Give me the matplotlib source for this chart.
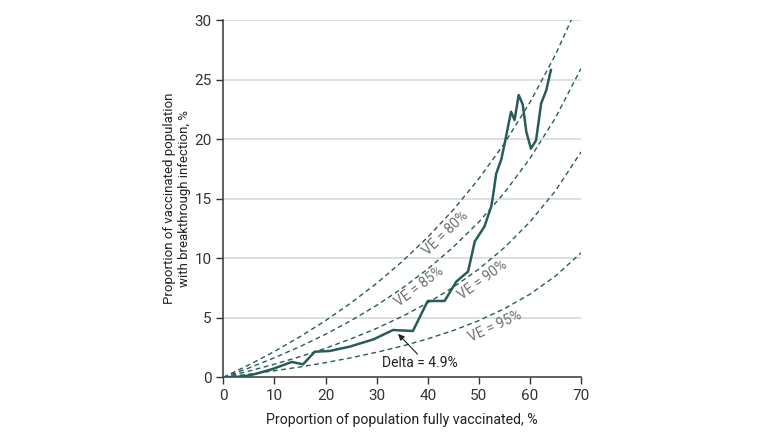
import matplotlib.pyplot as plt

# observed Delta curve
delta_x = [0, 3, 5, 7.2, 9.8, 13.4, 15.6, 17.9, 20.8, 24.7, 29.4, 33.2, 37.1,
           40.0, 43.3, 45.6, 47.9, 49.2, 51.1, 52.4, 52.7, 53.4, 54.4, 55.0,
           56.3, 57.0, 57.8, 58.6, 59.3, 60.2, 61.2, 62.2, 63.2, 64.1]
delta_y = [0, 0.05, 0.15, 0.39, 0.72, 1.29, 1.09, 2.15, 2.21, 2.57, 3.19, 3.97,
           3.89, 6.41, 6.41, 8.04, 8.88, 11.4, 12.66, 14.3, 15.0, 17.1, 18.3,
           19.5, 22.3, 21.6, 23.7, 22.9, 20.6, 19.2, 19.9, 23.0, 24.1, 25.8]

# reference curves for vaccine effectiveness
ve_x = [0, 5, 10, 15, 20, 25, 30, 35, 40, 45, 50, 55, 60, 65, 70]
ve80 = [0, 1.04, 2.17, 3.41, 4.76, 6.25, 7.89, 9.72, 11.76, 14.06, 16.67, 19.64, 23.08, 27.08, 31.82]
ve85 = [0, 0.78, 1.64, 2.58, 3.61, 4.76, 6.04, 7.47, 9.09, 10.93, 13.04, 15.49, 18.37, 21.79, 25.93]
ve90 = [0, 0.52, 1.10, 1.73, 2.44, 3.23, 4.11, 5.11, 6.25, 7.56, 9.09, 10.89, 13.04, 15.66, 18.92]
ve95 = [0, 0.26, 0.55, 0.87, 1.23, 1.64, 2.10, 2.62, 3.23, 3.93, 4.76, 5.76, 6.98, 8.50, 10.45]

ve_labels = ["VE = 80%", "VE = 85%", "VE = 90%", "VE = 95%"]
label_pos = [(43.6, 12.1, 44), (38.4, 7.6, 37), (50.8, 8.2, 36), (53.1, 4.25, 25)]

x_ticks = [0, 10, 20, 30, 40, 50, 60, 70]
y_ticks = [0, 5, 10, 15, 20, 25, 30]

plt.rcParams['font.family'] = ['Roboto', 'DejaVu Sans']

line_color = "#285c59"
text_color = "#333333"

fig = plt.figure(figsize=(7.8, 4.32), dpi=100)
ax = fig.add_axes([0.2863, 0.1266, 0.4586, 0.8271])

for yv in y_ticks[1:]:
    ax.axhline(yv, color="#dcdcdc", lw=1.3, zorder=0)

for vals in [ve80, ve85, ve90, ve95]:
    ax.plot(ve_x, vals, color=line_color, lw=1.0, ls=(0, (3.5, 2.5)), zorder=2)

ax.plot(delta_x, delta_y, color=line_color, lw=1.8, zorder=3)

for lab, (tx, ty, rot) in zip(ve_labels, label_pos):
    ax.text(tx, ty, lab, rotation=rot, rotation_mode="anchor", ha="center",
            va="center", fontsize=10, color="#707070", zorder=4)

ax.text(38.4, 1.18, "Delta = 4.9%", ha="center", va="center", fontsize=10,
        color="#222222")
ax.annotate("", xy=(34.2, 3.64), xytext=(38.0, 1.95),
            arrowprops=dict(arrowstyle="-|>", color="#222222", lw=0.8,
                            mutation_scale=9, shrinkA=0, shrinkB=0))

ax.set_xlim(0, 70)
ax.set_ylim(0, 30)
ax.set_xticks(x_ticks)
ax.set_yticks(y_ticks)
ax.tick_params(axis="both", labelsize=11, colors=text_color, length=5, width=1,
               direction="out")
for side in ["top", "right"]:
    ax.spines[side].set_visible(False)
for side in ["left", "bottom"]:
    ax.spines[side].set_color("#444444")
    ax.spines[side].set_linewidth(1.2)

ax.set_xlabel("Proportion of population fully vaccinated, %", fontsize=10.2,
              color="#222222", labelpad=7)
ax.set_ylabel("Proportion of vaccinated population\nwith breakthrough infection, %",
              fontsize=9.5, color="#222222")
ax.yaxis.set_label_coords(-0.09, 0.5)

fig.savefig("out.png", dpi=100)
